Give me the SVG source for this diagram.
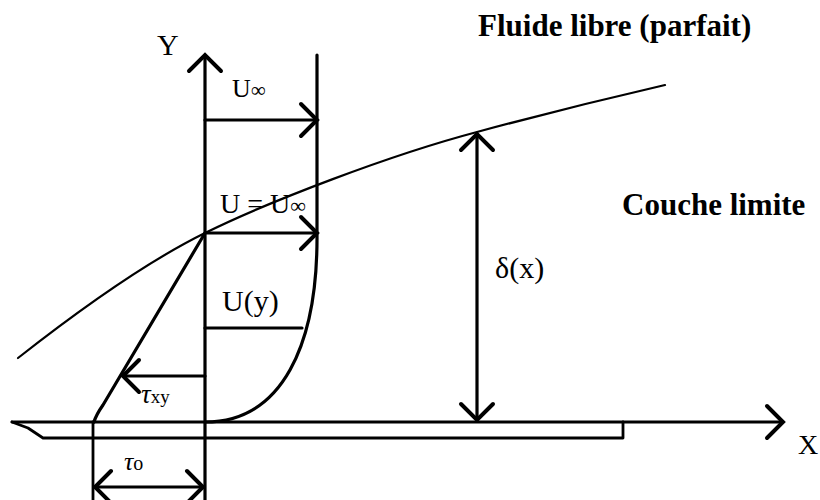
<svg xmlns="http://www.w3.org/2000/svg" width="820" height="500" viewBox="0 0 820 500">
<defs>
<style>
.ln{fill:none;stroke:#000;stroke-width:3.2;stroke-linecap:round;stroke-linejoin:round}
.pl{fill:none;stroke:#000;stroke-width:2.8;stroke-linecap:round;stroke-linejoin:round}
.th{fill:none;stroke:#000;stroke-width:2.2;stroke-linecap:round}
.t{font-family:"Liberation Serif","Times New Roman",serif;fill:#000}
.b{font-family:"Liberation Serif","Times New Roman",serif;font-weight:bold;fill:#000;font-size:31px}
</style>
<marker id="ah" viewBox="-20 -20 24 40" markerUnits="userSpaceOnUse" markerWidth="24" markerHeight="40" refX="0" refY="0" orient="auto-start-reverse">
<path d="M-16,-16 L0,0 L-16,16" fill="none" stroke="#000" stroke-width="4" stroke-linecap="round" stroke-linejoin="miter"/>
</marker>
</defs>
<rect width="820" height="500" fill="#fff"/>

<g id="boundary-layer-edge">
<path class="th" d="M18,358 C60,325 140,265 205,233 C270,201 390,155 477,132 C540,115 600,100 665,85"/>
</g>

<g id="plate">
<path class="pl" d="M12,422 L28,428 L43,438 L623,438 L623,422"/>
<line class="pl" x1="93" y1="422" x2="93" y2="500"/>
</g>

<g id="connectors">
<line class="pl" x1="12" y1="422" x2="783" y2="422" marker-end="url(#ah)"/>
<line class="ln" x1="205" y1="500" x2="205" y2="55" marker-end="url(#ah)"/>
<line class="ln" x1="205" y1="120" x2="317" y2="120" marker-end="url(#ah)"/>
<line class="ln" x1="205" y1="233" x2="317" y2="233" marker-end="url(#ah)"/>
<line class="ln" x1="205" y1="328" x2="302" y2="328"/>
<line class="ln" x1="205" y1="376" x2="123" y2="376" marker-end="url(#ah)"/>
<line class="ln" x1="477" y1="134" x2="477" y2="420" marker-start="url(#ah)" marker-end="url(#ah)"/>
<line class="ln" x1="95" y1="487" x2="203" y2="487" marker-start="url(#ah)" marker-end="url(#ah)"/>
</g>

<g id="velocity-profile">
<path class="ln" d="M317,55 L317,233 C318,345 282,422 205,422"/>
</g>

<g id="shear-line">
<path class="ln" d="M205,233 L103,405 Q96,415 94,422"/>
</g>

<g id="labels">
<text class="t" x="157" y="55" font-size="30">Y</text>
<text class="t" x="798" y="454" font-size="28">X</text>
<text class="t" x="232" y="97" font-size="26">U<tspan font-size="21">∞</tspan></text>
<text class="t" x="220" y="213" font-size="28">U = U<tspan font-size="22">∞</tspan></text>
<text class="t" x="222" y="311" font-size="30">U(y)</text>
<text class="t" x="495" y="278" font-size="30">δ(x)</text>
<text class="t" x="141" y="403" font-size="27" font-style="italic">τ<tspan font-size="19" font-style="normal">xy</tspan></text>
<text class="t" x="124" y="470" font-size="26" font-style="italic">τ<tspan font-size="20" font-style="normal">o</tspan></text>
<text class="b" x="478" y="36">Fluide libre (parfait)</text>
<text class="b" x="622" y="215">Couche limite</text>
</g>
</svg>
